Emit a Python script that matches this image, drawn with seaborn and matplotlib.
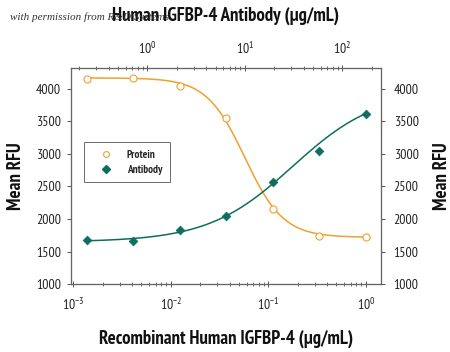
import numpy as np
import pandas as pd
import matplotlib
matplotlib.use("Agg")
import matplotlib.pyplot as plt
import matplotlib.ticker as mticker
from matplotlib.lines import Line2D
import seaborn as sns

# ---- data ----
protein_conc = [0.00137, 0.00412, 0.0123, 0.037, 0.111, 0.333, 1.0]          # ug/mL (bottom axis)
protein_rfu = [4150, 4170, 4046, 3546, 2150, 1741, 1730]
antibody_conc = [0.24, 0.72, 2.15, 6.45, 19.3, 58.0, 174.0]                 # ug/mL (top axis)
antibody_rfu = [1675, 1664, 1833, 2043, 2564, 3044, 3617]

# fitted 4-parameter logistic curves (parameters)
protein_fit = dict(bottom=1720, top=4165, ec50=10 ** -1.24, hill=-2.2)
antibody_fit = dict(bottom=1650, top=3970, ec50=0.178 * 174, hill=1.0)

yticks = [1000, 1500, 2000, 2500, 3000, 3500, 4000]
ylim = (1000, 4322)
xlim_bottom = (10 ** -3.027, 10 ** 0.157)
top_factor = 174.0
xlim_top = (xlim_bottom[0] * top_factor, xlim_bottom[1] * top_factor)

ORANGE = "#F0A030"
TEAL = "#0E6E5E"

sns.set_style("ticks")
FONT = ["PT Sans Narrow", "Roboto Condensed", "DejaVu Sans"]
plt.rcParams["font.family"] = FONT
plt.rcParams["mathtext.fontset"] = "custom"
plt.rcParams["mathtext.rm"] = "PT Sans Narrow"
plt.rcParams["mathtext.it"] = "PT Sans Narrow"
plt.rcParams["mathtext.default"] = "regular"


def fourpl(x, bottom, top, ec50, hill):
    x = np.asarray(x, dtype=float)
    return bottom + (top - bottom) / (1 + (ec50 / x) ** hill)


fig = plt.figure(figsize=(4.5, 3.52), dpi=100)
ax = fig.add_axes([0.157, 0.1923, 0.690, 0.6154])
axt = ax.twiny()
axr = ax.twinx()

# curves
xs_p = np.logspace(np.log10(protein_conc[0]), np.log10(protein_conc[-1]), 200)
df_pc = pd.DataFrame({"x": xs_p, "y": fourpl(xs_p, **protein_fit)})
sns.lineplot(data=df_pc, x="x", y="y", ax=ax, color=ORANGE, lw=1.1, legend=False)
df_p = pd.DataFrame({"x": protein_conc, "y": protein_rfu})
sns.scatterplot(data=df_p, x="x", y="y", ax=ax, marker="o", s=26,
                facecolor="white", edgecolor=ORANGE, linewidth=0.8, zorder=3)

xs_a = np.logspace(np.log10(antibody_conc[0]), np.log10(antibody_conc[-1]), 200)
df_ac = pd.DataFrame({"x": xs_a, "y": fourpl(xs_a, **antibody_fit)})
sns.lineplot(data=df_ac, x="x", y="y", ax=axt, color=TEAL, lw=1.1, legend=False)
df_a = pd.DataFrame({"x": antibody_conc, "y": antibody_rfu})
sns.scatterplot(data=df_a, x="x", y="y", ax=axt, marker="D", s=20,
                color=TEAL, edgecolor=TEAL, linewidth=0.5, zorder=3)

for a in (ax, axt):
    a.set_xscale("log")
ax.set_xlim(*xlim_bottom)
axt.set_xlim(*xlim_top)
for a in (ax, axt, axr):
    a.set_ylim(*ylim)
ax.set_yticks(yticks)
axr.set_yticks(yticks)
axt.set_yticks(yticks)

tick_kw = dict(labelsize=10, colors="#555555", labelcolor="#222222", width=0.7)
ax.tick_params(axis="y", which="major", direction="out", length=3, pad=4, **tick_kw)
axr.tick_params(axis="y", which="major", direction="out", length=3, pad=6, **tick_kw)
ax.tick_params(axis="x", which="major", direction="inout", length=5, pad=7, **tick_kw)
ax.tick_params(axis="x", which="minor", direction="inout", length=2.5, colors="#555555", width=0.6)
axt.tick_params(axis="x", which="major", direction="inout", length=5, pad=5, **tick_kw)
axt.tick_params(axis="x", which="minor", direction="inout", length=2.5, colors="#555555", width=0.6)

for a in (ax, axt):
    a.xaxis.set_major_locator(mticker.LogLocator(base=10, numticks=10))
    a.xaxis.set_minor_locator(mticker.LogLocator(base=10, subs=np.arange(2, 10), numticks=20))
    a.xaxis.set_major_formatter(mticker.LogFormatterSciNotation())

for a in (ax, axt, axr):
    for sp in a.spines.values():
        sp.set_visible(True)
        sp.set_color("#666666")
        sp.set_linewidth(0.8)

lab_kw = dict(fontsize=13.5, color="#111111", fontweight="bold")
ax.set_xlabel("Recombinant Human IGFBP-4 (\u03bcg/mL)", labelpad=12, **lab_kw)
axt.set_xlabel("Human IGFBP-4 Antibody (\u03bcg/mL)", labelpad=15, **lab_kw)
ax.set_ylabel("Mean RFU", labelpad=8, **lab_kw)
axr.set_ylabel("Mean RFU", labelpad=10, **lab_kw)
axt.set_ylabel("")

# legend
handles = [
    Line2D([], [], ls="none", marker="o", ms=4.2, mfc="white", mec=ORANGE, mew=0.8),
    Line2D([], [], ls="none", marker="D", ms=3.8, mfc=TEAL, mec=TEAL),
]
leg = ax.legend(handles, ["Protein", "Antibody"], loc="upper left",
                bbox_to_anchor=(0.044, 0.658), fontsize=8, frameon=True,
                fancybox=False, edgecolor="#444444", handletextpad=0.55,
                borderpad=0.7, labelspacing=0.45, handlelength=2.55, borderaxespad=0)
leg.get_frame().set_linewidth(0.7)
for t in leg.get_texts():
    t.set_fontweight("bold")

fig.text(0.022, 0.952, "with permission from R&D Systems", fontsize=8,
         style="italic", family=["Liberation Serif", "DejaVu Serif"], color="#333333",
         va="center", ha="left")

fig.savefig("out.png", dpi=100)
